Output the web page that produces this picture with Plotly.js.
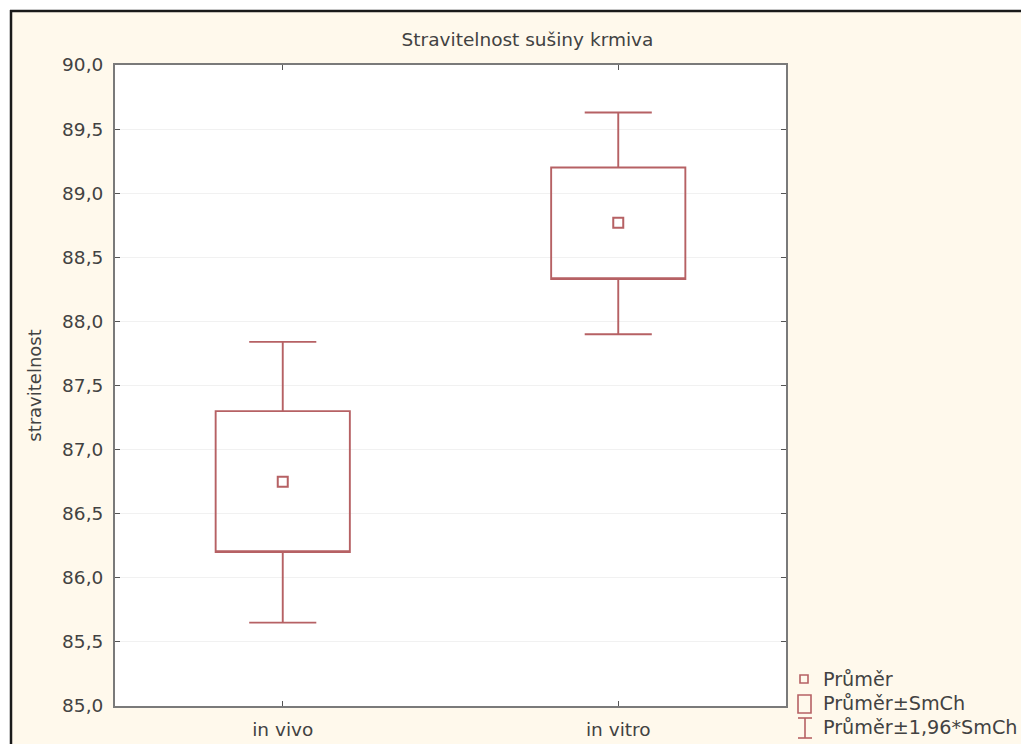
<!DOCTYPE html>
<html>
<head>
<meta charset="utf-8">
<script src="https://cdn.plot.ly/plotly-3.0.1.min.js"></script>
<style>html,body{margin:0;padding:0;background:#fff;}#chart{width:1021px;height:744px;}</style>
</head>
<body>
<div id="chart"></div>
<script>
// Data
const categories = ["in vivo", "in vitro"];
const meanValues = [86.75, 88.77];          // Průměr
const seLow      = [86.20, 88.33];          // Průměr - SmCh
const seHigh     = [87.30, 89.20];          // Průměr + SmCh
const ciLow      = [85.65, 87.90];          // Průměr - 1,96*SmCh
const ciHigh     = [87.84, 89.63];          // Průměr + 1,96*SmCh
const yTickVals  = [85.0, 85.5, 86.0, 86.5, 87.0, 87.5, 88.0, 88.5, 89.0, 89.5, 90.0];
const legendLabels = ["Průměr", "Průměr±SmCh", "Průměr±1,96*SmCh"];

const markColor = "#B6616444".slice(0,7);
const FONT = "DejaVu Sans, Liberation Sans, Arial, sans-serif";
const textColor = "#424242";

const traces = [
  {
    type: "box",
    x: categories,
    q1: seLow,
    median: seLow,
    q3: seHigh,
    lowerfence: ciLow,
    upperfence: ciHigh,
    width: 0.4,
    whiskerwidth: 0.5,
    fillcolor: "rgba(255,255,255,0)",
    line: {color: markColor, width: 1.9},
    hoverinfo: "skip",
    showlegend: false
  },
  {
    type: "scatter",
    mode: "markers",
    x: categories,
    y: meanValues,
    marker: {symbol: "square-open", size: 10, color: markColor, line: {color: markColor, width: 2}},
    hoverinfo: "skip",
    showlegend: false
  }
];

// plot area in pixels: x 115..786, y 65..706
const L = 115, R = 786, T = 65, B = 706;
const px = v => (v - L) / (R - L);
const py = v => (B - v) / (B - T);

const shapes = [
  // white strips outside the chart frame
  {type: "rect", xref: "paper", yref: "paper", x0: px(-20), x1: px(1100), y0: py(10), y1: py(-20), fillcolor: "#ffffff", line: {width: 0}, layer: "above"},
  {type: "rect", xref: "paper", yref: "paper", x0: px(-20), x1: px(10), y0: py(800), y1: py(-20), fillcolor: "#ffffff", line: {width: 0}, layer: "above"},
  // frame border
  {type: "line", xref: "paper", yref: "paper", x0: px(10), x1: px(1100), y0: py(11), y1: py(11), line: {color: "#1a1a1a", width: 2.5}, layer: "above"},
  {type: "line", xref: "paper", yref: "paper", x0: px(11), x1: px(11), y0: py(10), y1: py(800), line: {color: "#1a1a1a", width: 2.5}, layer: "above"},
  // legend icons
  {type: "rect", xref: "paper", yref: "paper", x0: px(800), x1: px(808), y0: py(675), y1: py(683), line: {color: markColor, width: 1.6}, fillcolor: "rgba(0,0,0,0)", layer: "above"},
  {type: "rect", xref: "paper", yref: "paper", x0: px(798), x1: px(811), y0: py(695), y1: py(713), line: {color: markColor, width: 1.6}, fillcolor: "rgba(0,0,0,0)", layer: "above"},
  {type: "line", xref: "paper", yref: "paper", x0: px(805), x1: px(805), y0: py(718), y1: py(738), line: {color: markColor, width: 1.6}, layer: "above"},
  {type: "line", xref: "paper", yref: "paper", x0: px(798), x1: px(812), y0: py(718), y1: py(718), line: {color: markColor, width: 1.6}, layer: "above"},
  {type: "line", xref: "paper", yref: "paper", x0: px(798), x1: px(812), y0: py(738), y1: py(738), line: {color: markColor, width: 1.6}, layer: "above"}
];

const legendY = [679, 703, 727];
const annotations = legendLabels.map((t, i) => ({
  xref: "paper", yref: "paper", x: px(821), y: py(legendY[i]),
  xanchor: "left", yanchor: "middle", showarrow: false, text: t,
  font: {family: FONT, size: 19.2, color: textColor}
}));

const layout = {
  width: 1021, height: 744,
  margin: {l: L, r: 1021 - R, t: T, b: 744 - B},
  paper_bgcolor: "#FFF9EC",
  plot_bgcolor: "#ffffff",
  separators: ", ",
  showlegend: false,
  font: {family: FONT, size: 18.5, color: textColor},
  title: {
    text: "Stravitelnost sušiny krmiva",
    xref: "paper", x: px(527.5), xanchor: "center",
    yref: "container", y: 1 - 40 / 744, yanchor: "middle",
    font: {family: FONT, size: 18.5, color: textColor}
  },
  xaxis: {
    type: "category",
    range: [-0.5, 1.5],
    showline: true, linecolor: "#7a7a7a", linewidth: 2, mirror: "ticks",
    ticks: "inside", ticklen: 5, tickwidth: 1, tickcolor: "#555",
    showgrid: false, zeroline: false,
    tickfont: {family: FONT, size: 18.5, color: textColor},
    ticklabelstandoff: 6
  },
  yaxis: {
    range: [85, 90],
    tickvals: yTickVals,
    tickformat: ".1f",
    showline: true, linecolor: "#7a7a7a", linewidth: 2, mirror: "ticks",
    ticks: "inside", ticklen: 5, tickwidth: 1, tickcolor: "#555",
    showgrid: true, gridcolor: "#F1F1F1", gridwidth: 1,
    zeroline: false,
    tickfont: {family: FONT, size: 18.5, color: textColor},
    ticklabelstandoff: 6,
    title: {text: "stravitelnost", font: {family: FONT, size: 18, color: textColor}, standoff: 16}
  },
  shapes: shapes,
  annotations: annotations
};

Plotly.newPlot("chart", traces, layout, {staticPlot: true, displayModeBar: false});
</script>
</body>
</html>
